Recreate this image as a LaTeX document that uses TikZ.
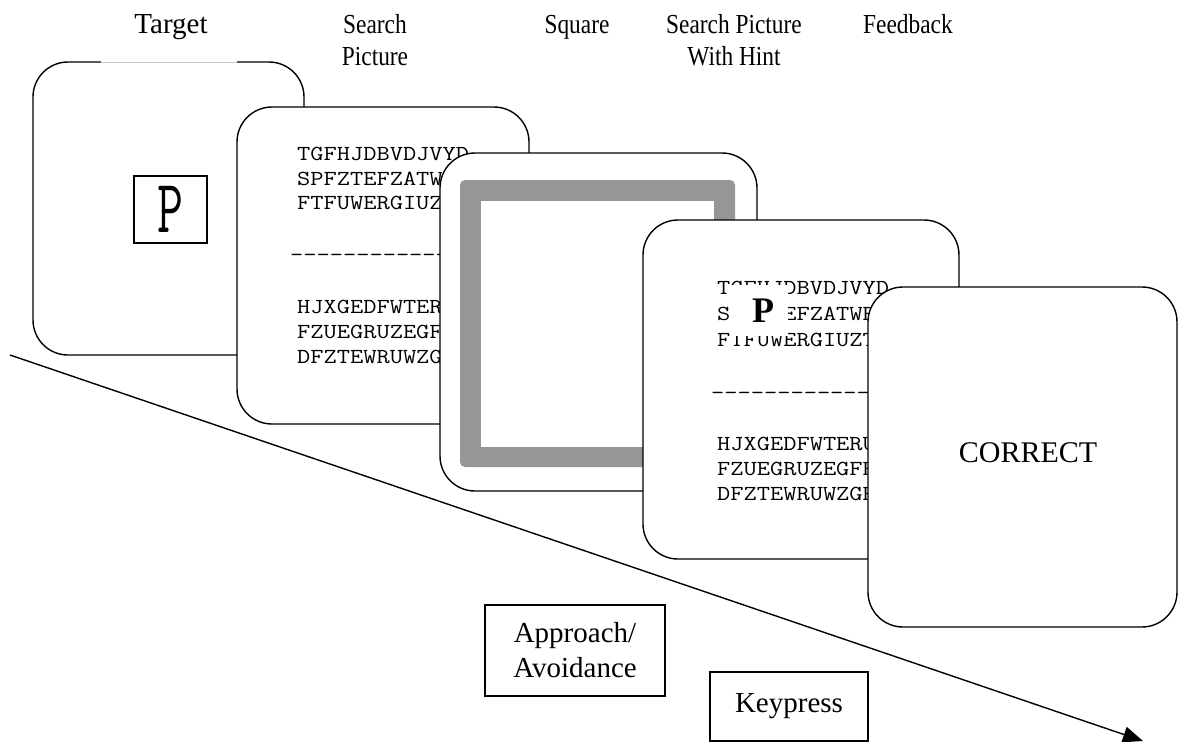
\documentclass[tikz,border=0pt]{standalone}
\usepackage{fontspec}
\setmainfont{Liberation Serif}
\newfontfamily\condserif[FakeStretch=0.85]{Liberation Serif}
\newfontfamily\monof[FakeStretch=1.2]{Latin Modern Mono}
\usetikzlibrary{arrows.meta}
\definecolor{framegray}{HTML}{969696}
\begin{document}
\begin{tikzpicture}[x=1pt,y=-1pt,
  card/.style={draw, fill=white, line width=1.4pt, rounded corners=35pt, inner sep=0pt},
  hdr/.style={font=\condserif\fontsize{27.5}{32}\selectfont, align=center, inner sep=0pt},
  mono/.style={font=\monof\fontsize{21.4}{25}\selectfont, anchor=base west, inner sep=0pt},
  lbl/.style={draw, line width=1.1pt, inner sep=0pt, align=center, font=\fontsize{29}{35}\selectfont}]
\useasboundingbox (0,0) rectangle (1179,742);

% headers
\node[inner sep=0pt, anchor=base, font=\fontsize{29}{32}\selectfont] (h1) at (171,33) {Target};
\node[hdr, anchor=north] (h2) at (375,14.3) {Search\\Picture};
\node[hdr, anchor=base] (h3) at (577,33) {Square};
\node[hdr, anchor=north] (h4) at (734,14.3) {Search Picture\\With Hint};
\node[hdr, anchor=base] (h5) at (908,33) {Feedback};

% card 1: target
\node[card, minimum width=271pt, minimum height=293pt] (c1) at (168.5,208.5) {};
\draw[white, line width=2pt] (101,62) -- (237,62);
\draw[black!22, line width=0.6pt] (101,62) -- (237,62);
\node[draw, line width=1.1pt, inner sep=0pt, minimum width=73pt, minimum height=67pt,
      font=\monof\fontsize{42}{42}\selectfont] (pbox) at (170.5,209.5) {\scalebox{1}[1.8]{P}};

% card 2: search picture
\node[card, minimum width=292pt, minimum height=317pt] (c2) at (383,265.5) {};
\node[mono] (s1) at (297,160) {TGFHJDBVDJVYD};
\node[mono] (s2) at (297,185) {SPFZTEFZATWR};
\node[mono] (s3) at (297,209) {FTFUWERGIUZT};
\node[mono] (sd) at (290,261) {-------------};
\node[mono] (s4) at (297,313) {HJXGEDFWTERU};
\node[mono] (s5) at (297,338) {FZUEGRUZEGFR};
\node[mono] (s6) at (297,363) {DFZTEWRUWZGR};

% card 3: square
\node[card, minimum width=317pt, minimum height=338pt] (c3) at (598.5,322) {};
\fill[framegray, rounded corners=5pt] (460,180) rectangle (735,467);
\fill[white] (481,201) rectangle (714,447);

% card 4: search picture with hint
\node[card, minimum width=316pt, minimum height=339pt] (c4) at (801,389.5) {};
\node[mono] (t1) at (717,294) {TGFHJDBVDJVYD};
\node[mono] (t2) at (717,320) {SPFZTEFZATWR};
\node[mono] (t3) at (717,346) {FTFUWERGIUZT};
\node[mono] (td) at (711,399) {-------------};
\node[mono] (t4) at (717,450) {HJXGEDFWTERU};
\node[mono] (t5) at (717,475) {FZUEGRUZEGFR};
\node[mono] (t6) at (717,500) {DFZTEWRUWZGR};
\fill[white] (730,284.5) rectangle (788,336);
\node[inner sep=0pt, font=\bfseries\fontsize{36}{36}\selectfont] (hint) at (763,311) {P};

% card 5: feedback
\node[card, minimum width=309pt, minimum height=340pt] (c5) at (1022.5,457) {};
\node[inner sep=0pt, anchor=base, font=\fontsize{30}{32}\selectfont] (fb) at (1028,462) {CORRECT};

% time arrow
\coordinate (as) at (10,355);
\coordinate (ae) at (1143,741);
\draw[line width=1.4pt, -{Triangle[length=20pt,width=16pt]}] (as) -- (ae);

% response boxes
\node[lbl, minimum width=180pt, minimum height=91pt] (ap) at (575,650.5) {Approach/\\Avoidance};
\node[lbl, minimum width=158pt, minimum height=69pt] (kp) at (789,706.5) {Keypress};
\end{tikzpicture}
\end{document}
